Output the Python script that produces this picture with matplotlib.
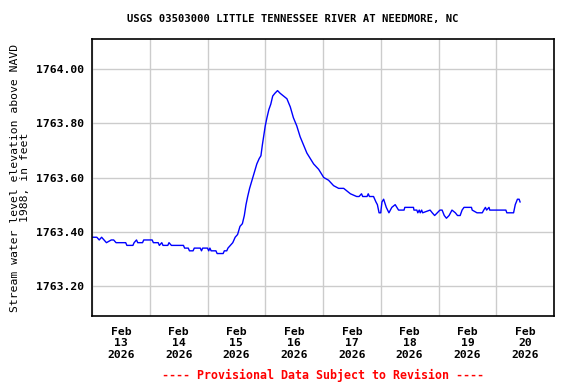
import numpy as np
import matplotlib
matplotlib.use('Agg')
import matplotlib.pyplot as plt
import matplotlib.dates as mdates

# hours since 2026-02-13 00:00 and water level (ft above NAVD 1988), by segment
base_hours = [0, 2, 3, 4, 5, 6, 8, 9, 10, 14, 14.5, 17, 17.5, 18.5, 19, 21, 21.5, 25,
              25.5, 27.5, 28, 29, 29.5, 31.5, 32, 33, 38, 38.5, 40, 40.5, 42, 42.5,
              45, 45.5, 46, 48, 48.5, 49, 49.5, 51.5, 52, 54.5, 55, 56]
base_level = [1763.38, 1763.38, 1763.37, 1763.38, 1763.37, 1763.36, 1763.37, 1763.37,
              1763.36, 1763.36, 1763.35, 1763.35, 1763.36, 1763.37, 1763.36, 1763.36,
              1763.37, 1763.37,
              1763.36, 1763.36, 1763.35, 1763.36, 1763.35, 1763.35, 1763.36, 1763.35,
              1763.35, 1763.34, 1763.34, 1763.33, 1763.33, 1763.34, 1763.34, 1763.33,
              1763.34, 1763.34, 1763.33, 1763.34, 1763.33, 1763.33, 1763.32, 1763.32,
              1763.33, 1763.33]

rise_hours = [56.5, 57.5, 58.5, 59.5, 60.5, 61.5, 62.5, 63.3, 64, 64.7, 65.5, 66.5,
              67.5, 68.5, 69.5, 70.2, 70.8, 71.3, 72, 72.7, 73.5, 74.3, 75.1, 76, 77.1]
rise_level = [1763.34, 1763.35, 1763.36, 1763.38, 1763.39, 1763.42, 1763.43, 1763.46,
              1763.50, 1763.53, 1763.56, 1763.59, 1763.62, 1763.65, 1763.67, 1763.68,
              1763.72, 1763.75, 1763.79, 1763.82, 1763.85, 1763.87, 1763.90, 1763.91,
              1763.92]

fall_hours = [78.2, 79.6, 81, 82.4, 83.7, 85.1, 86.5, 87.9, 89.3, 90.7, 92.1, 94.2,
              96.3, 98.3, 100.4, 102.5, 104.6, 106, 107.4, 110, 111, 112, 112.5,
              114.3, 114.8, 115.3, 117]
fall_level = [1763.91, 1763.90, 1763.89, 1763.86, 1763.82, 1763.79, 1763.75, 1763.72,
              1763.69, 1763.67, 1763.65, 1763.63, 1763.60, 1763.59, 1763.57, 1763.56,
              1763.56, 1763.55, 1763.54, 1763.53, 1763.53, 1763.54, 1763.53, 1763.53,
              1763.54, 1763.53, 1763.53]

late_hours = [118, 118.6, 119.3, 120, 120.5, 121.2, 122.3, 123.4, 124.6, 126, 127.4,
              129.7, 130, 133.6, 133.8, 135, 135.4, 136, 136.4, 137, 137.4, 140.5,
              141.4, 142.4, 143.5, 144.6, 145.5, 146.4, 147.3, 148.4, 149.6, 151,
              151.9, 153, 153.8, 154.6, 157.7, 158, 160, 162.2, 162.8, 163.5, 164,
              165, 165.3, 172, 172.4, 175.2, 175.9, 176.8, 177.5, 177.9]
late_level = [1763.51, 1763.50, 1763.47, 1763.47, 1763.51, 1763.52, 1763.49, 1763.47,
              1763.49, 1763.50, 1763.48, 1763.48, 1763.49, 1763.49, 1763.48, 1763.48,
              1763.47, 1763.48, 1763.47, 1763.48, 1763.47, 1763.48,
              1763.47, 1763.46, 1763.47, 1763.48, 1763.48, 1763.46, 1763.45, 1763.46,
              1763.48, 1763.47, 1763.46, 1763.46, 1763.48, 1763.49, 1763.49, 1763.48,
              1763.47, 1763.47, 1763.48, 1763.49, 1763.48, 1763.49, 1763.48, 1763.48,
              1763.47, 1763.47, 1763.50, 1763.52, 1763.52, 1763.51]

hours = base_hours + rise_hours + fall_hours + late_hours
level = base_level + rise_level + fall_level + late_level

start = np.datetime64('2026-02-13T00:00')
times = start + (np.array(hours) * 60).astype('timedelta64[m]')

plt.rcParams['font.family'] = 'DejaVu Sans Mono'
plt.rcParams['font.weight'] = 'bold'

fig = plt.figure(figsize=(5.76, 3.84), dpi=100)
ax = fig.add_axes([92 / 576, 68 / 384, 462 / 576, 277 / 384])
ax.plot(times, level, color='#0000ff', lw=1.0)

ax.set_xlim(np.datetime64('2026-02-13T00:00'), np.datetime64('2026-02-21T00:00'))
ax.set_ylim(1763.09, 1764.11)
ax.set_yticks([1763.2, 1763.4, 1763.6, 1763.8, 1764.0])
ax.set_yticklabels(['1763.20', '1763.40', '1763.60', '1763.80', '1764.00'])

ax.xaxis.set_major_locator(mdates.DayLocator())
ax.xaxis.set_major_formatter(plt.NullFormatter())
ax.xaxis.set_minor_locator(mdates.HourLocator(byhour=[12]))
ax.xaxis.set_minor_formatter(mdates.DateFormatter('%b\n%d\n%Y'))
ax.tick_params(axis='x', which='both', length=0, labelsize=8.2, pad=8)
ax.tick_params(axis='y', length=0, labelsize=8.2, pad=6)
for lab in ax.get_xticklabels(minor=True):
    lab.set_linespacing(1.15)

ax.grid(True, which='major', color='#cccccc', lw=1)
ax.set_axisbelow(True)
for s in ax.spines.values():
    s.set_linewidth(1.2)
    s.set_color('black')

ax.set_ylabel('Stream water level elevation above NAVD\n1988, in feet',
              fontsize=8.2, linespacing=1.0)
ax.yaxis.set_label_coords(-0.134, 0.5)

fig.text(293 / 576, 1 - 19 / 384, 'USGS 03503000 LITTLE TENNESSEE RIVER AT NEEDMORE, NC',
         ha='center', va='center', fontsize=7.6)
fig.text(323 / 576, 1 - 375 / 384, '---- Provisional Data Subject to Revision ----',
         ha='center', va='center', fontsize=8.4, color='red')

fig.savefig('out.png', dpi=100)
